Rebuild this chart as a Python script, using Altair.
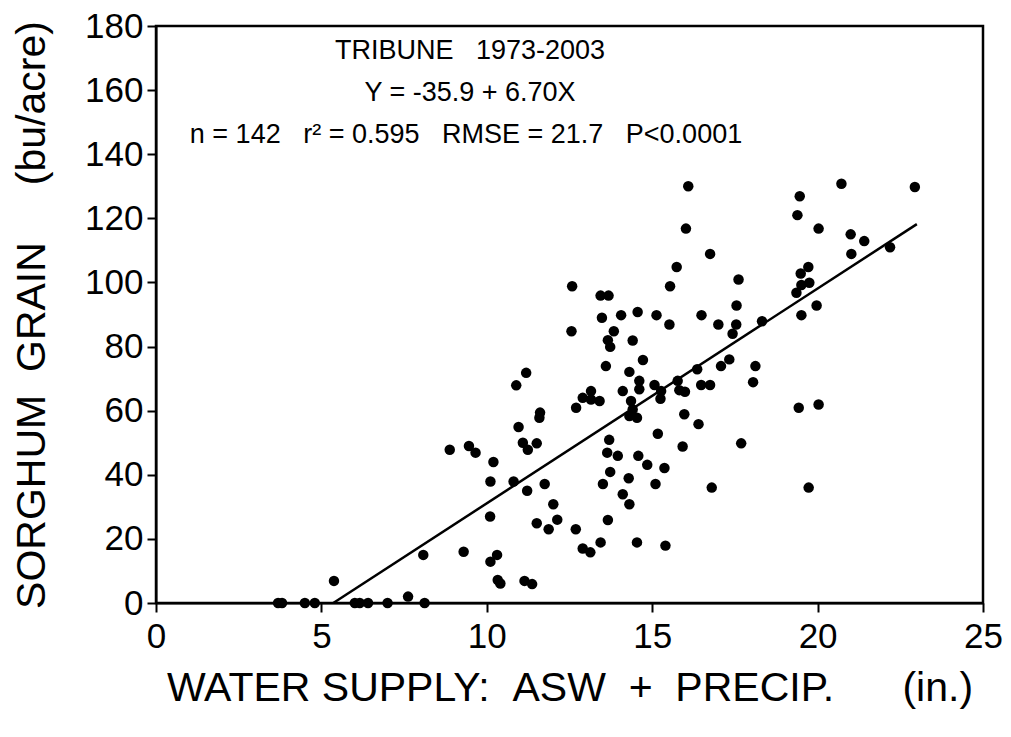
import altair as alt
import pandas as pd

# ---- data ----
water_supply = [
    16.09, 16.02, 16.75, 15.74, 15.54, 13.44, 13.68, 17.61, 17.55, 13.48,
    14.06, 14.56, 15.13, 15.52, 16.49, 17.00, 17.54, 17.43, 18.32, 13.84,
    13.66, 13.73, 14.41, 14.72, 13.60, 14.31, 14.61, 14.61, 15.07, 15.27,
    15.25, 15.77, 15.82, 15.99, 16.36, 16.48, 16.75, 17.08, 17.33, 18.12,
    18.05, 14.11, 14.36, 14.31, 14.54, 14.41, 15.97, 16.40, 15.17, 15.92,
    13.70, 13.64, 13.96, 14.58, 14.85, 15.37, 13.73, 14.29, 15.10, 13.51,
    16.80, 19.73, 17.69, 19.43, 20.03, 19.46, 19.39, 20.03, 20.72, 22.94,
    21.00, 21.41, 21.02, 22.19, 19.49, 19.72, 19.51, 19.75, 19.36, 19.97,
    19.51, 13.41,
    12.58, 12.56, 11.19, 10.89, 12.90, 13.15, 13.15, 12.70, 11.61, 11.59,
    10.96, 11.09, 11.24, 11.51, 8.88, 9.46, 9.66, 10.20, 10.11, 10.81,
    11.22, 11.75,
    12.01, 12.13, 11.51, 11.87, 12.69, 10.10, 8.08, 9.30, 10.31, 10.11,
    10.33, 10.41, 11.14, 11.37, 7.62, 14.11, 14.31, 13.66, 13.44, 12.90,
    13.13, 14.54, 15.40, 5.38,
    3.69, 3.81, 4.50, 4.80, 6.01, 6.16, 6.41, 7.00, 8.12,
]
grain_yield = [
    130.0, 116.8, 108.9, 104.8, 98.8, 95.9, 95.9, 100.9, 92.8, 89.0,
    89.8, 90.8, 89.8, 86.9, 89.8, 86.9, 86.9, 84.0, 87.9, 84.8,
    82.0, 79.9, 81.9, 75.8, 73.9, 72.1, 69.3, 66.7, 68.0, 66.1,
    63.7, 69.3, 66.4, 65.9, 72.9, 68.0, 68.0, 73.9, 76.0, 73.9,
    68.9, 66.1, 63.0, 58.3, 57.8, 60.4, 58.9, 55.8, 52.8, 48.8,
    50.9, 46.9, 45.9, 45.9, 43.1, 42.1, 40.9, 38.9, 37.1, 37.1,
    36.0, 36.0, 49.8, 60.9, 61.9, 126.9, 121.0, 116.8, 130.8, 129.8,
    115.0, 112.9, 108.9, 111.0, 102.8, 104.8, 99.2, 99.9, 96.8, 92.8,
    89.8, 63.0,
    98.8, 84.8, 71.8, 67.9, 64.0, 66.1, 63.5, 60.9, 59.4, 57.8,
    54.9, 50.0, 47.8, 49.8, 47.8, 49.0, 46.9, 44.0, 37.9, 37.9,
    35.0, 37.1,
    30.8, 26.0, 24.9, 23.0, 23.0, 27.0, 15.0, 16.0, 15.0, 12.9,
    7.2, 6.1, 6.9, 5.9, 2.0, 33.9, 30.8, 25.9, 18.9, 17.0,
    15.8, 18.9, 17.9, 6.9,
    0, 0, 0, 0, 0, 0, 0, 0, 0,
]

intercept = -35.9
slope = 6.70
line_x = [5.36, 23.0]
line_y = [intercept + slope * v for v in line_x]

x_ticks = [0, 5, 10, 15, 20, 25]
y_ticks = [0, 20, 40, 60, 80, 100, 120, 140, 160, 180]

NB = "\u00a0"
x_title = f"WATER SUPPLY:{NB*2}ASW{NB*2}+{NB*2}PRECIP.{NB*6}(in.)"
y_title = f"SORGHUM{NB*2}GRAIN{NB*5}(bu/acre)"
ann_lines = [
    f"TRIBUNE{NB*3}1973-2003",
    "Y = -35.9 + 6.70X",
    f"n = 142{NB*3}r\u00b2 = 0.595{NB*3}RMSE = 21.7{NB*3}P<0.0001",
]

FONT = "Liberation Sans"

pts = pd.DataFrame({"x": water_supply, "y": grain_yield})
fit = pd.DataFrame({"x": line_x, "y": line_y})

xscale = alt.Scale(domain=[0, 25], nice=False, zero=False)
yscale = alt.Scale(domain=[0, 180], nice=False, zero=False)

xaxis = alt.Axis(values=x_ticks, title=x_title, grid=False, tickSize=9, tickWidth=2,
                 tickColor="black", domainColor="black", domainWidth=2,
                 labelFontSize=35, labelFont=FONT, labelColor="black", labelPadding=7,
                 titleFontSize=41, titleFont=FONT, titleFontWeight="normal",
                 titleColor="black", titlePadding=14, labelFlush=False)
yaxis = alt.Axis(values=y_ticks, title=y_title, grid=False, tickSize=9, tickWidth=2,
                 tickColor="black", domainColor="black", domainWidth=2,
                 labelFontSize=35, labelFont=FONT, labelColor="black", labelPadding=4,
                 titleFontSize=41, titleFont=FONT, titleFontWeight="normal",
                 titleColor="black", titlePadding=31, labelFlush=False)

points = alt.Chart(pts).mark_circle(size=110, color="black", opacity=1).encode(
    x=alt.X("x:Q", scale=xscale, axis=xaxis),
    y=alt.Y("y:Q", scale=yscale, axis=yaxis),
)

line = alt.Chart(fit).mark_line(color="black", strokeWidth=2.5).encode(
    x=alt.X("x:Q", scale=xscale),
    y=alt.Y("y:Q", scale=yscale),
)

ann_x = [314, 314, 310]
ann_y = [25, 67, 109]
texts = []
for t, ax, ay in zip(ann_lines, ann_x, ann_y):
    texts.append(
        alt.Chart(pd.DataFrame({"t": [t]})).mark_text(
            font=FONT, fontSize=27, color="black", align="center", baseline="middle"
        ).encode(text="t:N", x=alt.value(ax), y=alt.value(ay))
    )

chart = alt.layer(points, line, *texts).properties(
    width=827, height=577,
    autosize=alt.AutoSizeParams(type="none"),
    padding={"left": 148, "top": 18, "right": 20, "bottom": 120},
).configure_view(stroke="black", strokeWidth=2.5)

chart.save("out.html", embed_options={"renderer": "svg", "actions": False})
